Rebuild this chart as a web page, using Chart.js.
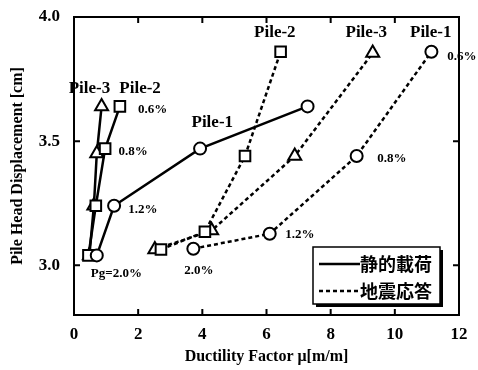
<!DOCTYPE html>
<html>
<head>
<meta charset="utf-8">
<script src="https://cdn.jsdelivr.net/npm/chart.js@4"></script>
<style>
  html, body { margin: 0; padding: 0; background: #fff; }
  canvas { display: block; }
</style>
</head>
<body>
<canvas id="myChart" width="478" height="370"></canvas>
<script>
// Datos (x = ductilidad, y = desplazamiento)
const xTicks = [0, 2, 4, 6, 8, 10, 12];
const yTicks = [3.0, 3.5, 4.0];

// 静的載荷 (línea continua)
const static1X = [0.71, 1.25, 3.93, 7.28];
const static1Y = [3.04, 3.24, 3.47, 3.64];
const static2X = [0.45, 0.68, 0.97, 1.43];
const static2Y = [3.04, 3.24, 3.47, 3.64];
const static3X = [0.48, 0.62, 0.71, 0.86];
const static3Y = [3.04, 3.24, 3.45, 3.64];

// 地震応答 (línea discontinua)
const seismic1X = [3.72, 6.10, 8.81, 11.14];
const seismic1Y = [3.067, 3.127, 3.44, 3.86];
const seismic2X = [2.71, 4.08, 5.33, 6.44];
const seismic2Y = [3.064, 3.135, 3.44, 3.86];
const seismic3X = [2.52, 4.29, 6.88, 9.31];
const seismic3Y = [3.064, 3.14, 3.44, 3.855];

// Etiquetas sobre el gráfico
const noteTexts = ["Pile-3", "Pile-2", "0.6%", "0.8%", "Pile-1", "1.2%", "Pg=2.0%",
                   "2.0%", "1.2%", "0.8%", "0.6%", "Pile-2", "Pile-3", "Pile-1"];
const noteX = [0.48, 2.06, 2.45, 1.84, 4.31, 2.15, 1.32, 3.89, 7.04, 9.91, 12.09, 6.26, 9.11, 11.12];
const noteY = [3.711, 3.711, 3.627, 3.458, 3.574, 3.225, 2.968, 2.98, 3.124, 3.43, 3.84, 3.936, 3.936, 3.936];
const noteBig = [true, true, false, false, true, false, false, false, false, false, false, true, true, true];

const legendTexts = ["静的載荷", "地震応答"];

const SERIF = '"Liberation Serif", "DejaVu Serif", serif';

function pts(xs, ys) {
    return xs.map((x, i) => ({ x: x, y: ys[i] }));
}

function series(xs, ys, style, dashed) {
    return {
        data: pts(xs, ys),
        showLine: true,
        borderColor: "#000",
        borderWidth: 2.5,
        borderDash: dashed ? [4, 3] : [],
        pointStyle: style,
        pointRadius: style === "circle" ? 6 : 7.5,
        pointBorderWidth: 2,
        pointBackgroundColor: "#fff",
        pointBorderColor: "#000"
    };
}

// Marco, marcas interiores, textos y leyenda
const decor = {
    id: "decor",
    afterDatasetsDraw(chart) {
        const { ctx, scales } = chart;
        ctx.save();
        ctx.fillStyle = "#000";
        ctx.textAlign = "center";
        ctx.textBaseline = "middle";
        noteTexts.forEach((t, i) => {
            ctx.font = noteBig[i] ? `bold 17px ${SERIF}` : `bold 13px ${SERIF}`;
            ctx.fillText(t, scales.x.getPixelForValue(noteX[i]), scales.y.getPixelForValue(noteY[i]));
        });
        ctx.restore();
    },
    afterDraw(chart) {
        const { ctx, chartArea: a, scales } = chart;
        ctx.save();
        ctx.strokeStyle = "#000";
        ctx.lineWidth = 2;
        ctx.strokeRect(a.left, a.top, a.right - a.left, a.bottom - a.top);

        const tl = 6;
        ctx.beginPath();
        xTicks.forEach(v => {
            const px = scales.x.getPixelForValue(v);
            ctx.moveTo(px, a.bottom); ctx.lineTo(px, a.bottom - tl);
            ctx.moveTo(px, a.top); ctx.lineTo(px, a.top + tl);
        });
        yTicks.forEach(v => {
            const py = scales.y.getPixelForValue(v);
            ctx.moveTo(a.left, py); ctx.lineTo(a.left + tl, py);
            ctx.moveTo(a.right, py); ctx.lineTo(a.right - tl, py);
        });
        ctx.stroke();

        // Etiquetas del eje Y
        ctx.fillStyle = "#000";
        ctx.font = `bold 17px ${SERIF}`;
        ctx.textAlign = "right";
        ctx.textBaseline = "middle";
        yTicks.forEach(v => {
            ctx.fillText(v.toFixed(1), a.left - 14, scales.y.getPixelForValue(v));
        });

        // Leyenda con sombra
        const lx = a.right - 146, ly = a.bottom - 68, lw = 127, lh = 57;
        ctx.fillStyle = "#000";
        ctx.fillRect(lx + 3, ly + 3, lw, lh);
        ctx.fillStyle = "#fff";
        ctx.fillRect(lx, ly, lw, lh);
        ctx.lineWidth = 1.5;
        ctx.strokeRect(lx, ly, lw, lh);

        ctx.lineWidth = 2.5;
        [0, 1].forEach(i => {
            const yy = ly + 17 + i * 27;
            ctx.setLineDash(i === 0 ? [] : [4, 3]);
            ctx.beginPath();
            ctx.moveTo(lx + 6, yy);
            ctx.lineTo(lx + 47, yy);
            ctx.stroke();
            ctx.setLineDash([]);
            ctx.fillStyle = "#000";
            ctx.font = `bold 18px "Noto Sans CJK JP", sans-serif`;
            ctx.textAlign = "left";
            ctx.textBaseline = "middle";
            ctx.fillText(legendTexts[i], lx + 47, yy);
        });
        ctx.restore();
    }
};

const ctx = document.getElementById("myChart").getContext("2d");
const chart = new Chart(ctx, {
    type: "scatter",
    data: {
        datasets: [
            series(static1X, static1Y, "circle", false),
            series(static2X, static2Y, "rect", false),
            series(static3X, static3Y, "triangle", false),
            series(seismic1X, seismic1Y, "circle", true),
            series(seismic2X, seismic2Y, "rect", true),
            series(seismic3X, seismic3Y, "triangle", true)
        ]
    },
    options: {
        responsive: false,
        animation: false,
        layout: { padding: { top: 17, right: 19, left: 0, bottom: 0 } },
        plugins: {
            legend: { display: false },
            tooltip: { enabled: false }
        },
        scales: {
            x: {
                type: "linear",
                min: 0,
                max: 12,
                grid: { display: false, drawTicks: false },
                border: { display: false },
                afterBuildTicks: s => { s.ticks = xTicks.map(v => ({ value: v })); },
                afterFit: s => { s.height = 55; },
                ticks: {
                    color: "#000",
                    padding: 9,
                    font: { family: SERIF, size: 17, weight: "bold" }
                },
                title: {
                    display: true,
                    text: "Ductility Factor μ[m/m]",
                    color: "#000",
                    padding: { top: 0, bottom: 4 },
                    font: { family: SERIF, size: 16, weight: "bold" }
                }
            },
            y: {
                type: "linear",
                min: 2.8,
                max: 4.0,
                grid: { display: false, drawTicks: false },
                border: { display: false },
                afterBuildTicks: s => { s.ticks = yTicks.map(v => ({ value: v })); },
                afterFit: s => { s.width = 74; },
                ticks: { display: false },
                title: {
                    display: true,
                    text: "Pile Head Displacement [cm]",
                    color: "#000",
                    padding: { top: 8, bottom: 0 },
                    font: { family: SERIF, size: 16, weight: "bold" }
                }
            }
        }
    },
    plugins: [decor]
});
</script>
</body>
</html>
